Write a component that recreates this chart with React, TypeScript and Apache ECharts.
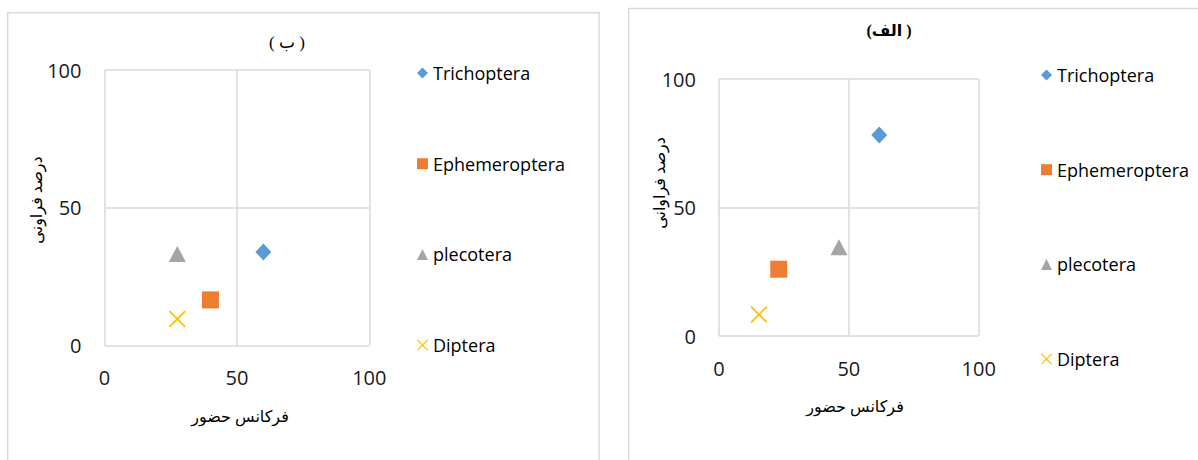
import React, { useEffect, useRef } from "react";
import * as echarts from "echarts";

const species = ["Trichoptera", "Ephemeroptera", "plecotera", "Diptera"];
const colors = ["#5B9BD5", "#ED7D31", "#A5A5A5", "#FFC000"];

// panel (ب) – left
const panelBX = [60, 40, 27.5, 27.5];
const panelBY = [34, 16.6, 33.3, 9.7];
// panel (الف) – right
const panelAX = [61.7, 23, 46.2, 15.4];
const panelAY = [78.2, 26, 34.5, 8.4];

const axisTicks = [0, 50, 100];

const titleB = "( ب )";
const titleA = "(الف )";
const xName = "فرکانس حضور";
const yNameB = "درصد فراونی";
const yNameA = "درصد فراوانی";

const crossPath =
  "path://M0,1.5L1.5,0L10,8.5L18.5,0L20,1.5L11.5,10L20,18.5L18.5,20L10,11.5L1.5,20L0,18.5L8.5,10Z";
const symbols = ["diamond", "rect", "triangle", crossPath];
const sizes: any[] = [[16, 17], 17, [17, 16], 17];

const arabicFont = "'Liberation Serif', 'DejaVu Serif', 'DejaVu Sans', serif";
const latinFont = "'Open Sans', 'Noto Sans', sans-serif";

export default function App() {
  const ref = useRef<HTMLDivElement>(null);

  useEffect(() => {
    if (!ref.current) return;
    const chart = echarts.init(ref.current, undefined, { renderer: "svg" });

    const axisBase = (gridIndex: number) => ({
      gridIndex,
      type: "value",
      min: 0,
      max: 100,
      interval: 50,
      axisLine: { show: false },
      axisTick: { show: false },
      splitLine: { show: true, lineStyle: { color: "#d9d9d9", width: 1.5 } },
      axisLabel: {
        fontSize: 20,
        color: "#1a1a1a",
        fontFamily: latinFont,
        formatter: (v: number) => (axisTicks.includes(v) ? String(v) : ""),
      },
    });

    const makeSeries = (xs: number[], ys: number[], idx: number) =>
      species.map((name, i) => ({
        name,
        type: "scatter",
        xAxisIndex: idx,
        yAxisIndex: idx,
        symbol: symbols[i],
        symbolSize: sizes[i],
        itemStyle: { color: colors[i], opacity: 1 },
        data: [[xs[i], ys[i]]],
        emphasis: { disabled: true },
      }));

    const legendBase = {
      orient: "vertical",
      itemWidth: 11,
      itemHeight: 11,
      selectedMode: false,
      data: species,
      textStyle: { fontSize: 18, color: "#000", fontFamily: latinFont },
    };

    const arabicText = (x: number, y: number, text: string, extra: any = {}) => ({
      type: "text",
      x,
      y,
      ...extra,
      style: {
        text,
        fontSize: 16,
        fontFamily: arabicFont,
        fill: "#000",
        align: "center",
        verticalAlign: "middle",
        ...(extra.style || {}),
      },
    });

    chart.setOption({
      animation: false,
      backgroundColor: "#ffffff",
      grid: [
        { left: 104.5, top: 70, width: 264.8, height: 275.7 },
        { left: 719, top: 79, width: 259.7, height: 257 },
      ],
      xAxis: [
        { ...axisBase(0), axisLabel: { ...axisBase(0).axisLabel, margin: 22 } },
        { ...axisBase(1), axisLabel: { ...axisBase(1).axisLabel, margin: 22 } },
      ],
      yAxis: [
        { ...axisBase(0), axisLabel: { ...axisBase(0).axisLabel, margin: 23 } },
        { ...axisBase(1), axisLabel: { ...axisBase(1).axisLabel, margin: 23 } },
      ],
      legend: [
        { ...legendBase, left: 412, top: 59, itemGap: 72.7 },
        { ...legendBase, left: 1036, top: 61, itemGap: 76.7 },
      ],
      graphic: [
        {
          type: "rect",
          shape: { x: 7.7, y: 12.7, width: 591.3, height: 470 },
          style: { fill: "none", stroke: "#d9d9d9", lineWidth: 1.5 },
          silent: true,
        },
        {
          type: "rect",
          shape: { x: 628.7, y: 8.5, width: 600, height: 470 },
          style: { fill: "none", stroke: "#d9d9d9", lineWidth: 1.5 },
          silent: true,
        },
        arabicText(287, 42, titleB, { style: { fontSize: 17 } }),
        arabicText(889, 30, titleA, { style: { fontSize: 16, fontWeight: "bold" } }),
        arabicText(240, 416, xName),
        arabicText(855, 406, xName),
        arabicText(36, 200, yNameB, { rotation: Math.PI / 2 }),
        arabicText(659, 183, yNameA, { rotation: Math.PI / 2 }),
      ],
      series: [...makeSeries(panelBX, panelBY, 0), ...makeSeries(panelAX, panelAY, 1)],
    });

    return () => chart.dispose();
  }, []);

  return (
    <div
      ref={ref}
      style={{
        position: "fixed",
        left: 0,
        top: 0,
        width: 1198,
        height: 460,
        background: "#fff",
      }}
    />
  );
}
